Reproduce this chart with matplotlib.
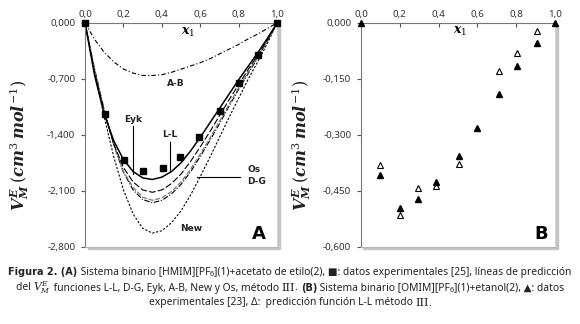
import numpy as np
import matplotlib
matplotlib.use("Agg")
import matplotlib.pyplot as plt
from matplotlib.patches import Rectangle

plt.rcParams['font.family'] = ['Noto Sans', 'DejaVu Sans']
plt.rcParams['mathtext.fontset'] = 'custom'
plt.rcParams['mathtext.it'] = 'DejaVu Serif:italic:bold'
plt.rcParams['mathtext.rm'] = 'DejaVu Serif'
plt.rcParams['mathtext.bf'] = 'DejaVu Serif:bold'

# panel A: experimental points (HMIM PF6 + ethyl acetate)
xa_exp = [0.0, 0.104, 0.204, 0.303, 0.405, 0.494, 0.594, 0.702, 0.802, 0.901, 1.0]
ya_exp = [0.0, -1.145, -1.71, -1.85, -1.82, -1.68, -1.43, -1.10, -0.75, -0.41, 0.0]

# panel A: prediction curves
x_curve = [0.0, 0.05, 0.10, 0.15, 0.20, 0.25, 0.30, 0.35, 0.40, 0.45, 0.50,
           0.55, 0.60, 0.65, 0.70, 0.75, 0.80, 0.85, 0.90, 0.95, 1.0]
y_LL = [0, -0.66, -1.14, -1.48, -1.71, -1.86, -1.94, -1.96, -1.93, -1.86, -1.75,
        -1.60, -1.43, -1.25, -1.07, -0.89, -0.71, -0.54, -0.37, -0.19, 0]
y_Eyk = [0, -0.62, -1.12, -1.52, -1.81, -1.99, -2.09, -2.12, -2.09, -2.01, -1.89,
         -1.73, -1.55, -1.36, -1.16, -0.96, -0.77, -0.58, -0.40, -0.21, 0]
y_Os = [0, -0.60, -1.10, -1.53, -1.86, -2.06, -2.18, -2.22, -2.19, -2.11, -1.99,
        -1.83, -1.64, -1.44, -1.23, -1.02, -0.81, -0.61, -0.42, -0.22, 0]
y_DG = [0, -0.58, -1.09, -1.53, -1.87, -2.09, -2.21, -2.25, -2.22, -2.14, -2.02,
        -1.86, -1.67, -1.47, -1.26, -1.04, -0.83, -0.63, -0.43, -0.22, 0]
y_New = [0, -0.62, -1.18, -1.68, -2.09, -2.39, -2.57, -2.63, -2.60, -2.50, -2.35,
         -2.15, -1.92, -1.68, -1.43, -1.18, -0.94, -0.70, -0.48, -0.25, 0]
y_AB = [0, -0.21, -0.37, -0.49, -0.58, -0.63, -0.66, -0.66, -0.65, -0.62, -0.58,
        -0.54, -0.50, -0.45, -0.39, -0.33, -0.27, -0.20, -0.14, -0.07, 0]

# panel B: OMIM PF6 + ethanol
xb_exp = [0.0, 0.100, 0.201, 0.292, 0.387, 0.503, 0.596, 0.710, 0.802, 0.905, 1.0]
yb_exp = [0.0, -0.408, -0.495, -0.473, -0.428, -0.357, -0.281, -0.192, -0.116, -0.055, 0.0]
xb_LL = [0.100, 0.201, 0.292, 0.387, 0.503, 0.710, 0.802, 0.905]
yb_LL = [-0.381, -0.514, -0.442, -0.437, -0.378, -0.130, -0.082, -0.021]

W, H = 580, 324
fig = plt.figure(figsize=(W / 100, H / 100), dpi=100)

def make_axes(left_px, width_px, ymin, yticks, ylabels, ylab_x):
    bottom = 1 - 246.7 / H
    height = (246.7 - 22.7) / H
    # drop shadow of the plot area
    fig.patches.append(Rectangle((left_px / W + 2.5 / W, bottom - 2.5 / H), width_px / W, height,
                                 transform=fig.transFigure, color='#c4c4c4', zorder=0))
    ax = fig.add_axes([left_px / W, bottom, width_px / W, height])
    ax.set_zorder(1)
    ax.set_xlim(0, 1)
    ax.set_ylim(ymin, 0)
    ax.xaxis.tick_top()
    ax.set_xticks([0, 0.2, 0.4, 0.6, 0.8, 1.0])
    ax.set_xticklabels(['0,0', '0,2', '0,4', '0,6', '0,8', '1,0'])
    ax.set_yticks(yticks)
    ax.set_yticklabels(ylabels)
    ax.tick_params(axis='x', direction='in', length=3, labelsize=7, colors='#555555',
                   labelcolor='#333333', pad=3)
    ax.tick_params(axis='y', direction='out', length=3, labelsize=7, colors='#555555',
                   labelcolor='#333333', pad=4)
    ax.spines['left'].set_color('#777777')
    ax.spines['top'].set_color('#777777')
    ax.spines['right'].set_color('#d4d4d4')
    ax.spines['bottom'].set_color('#b4b4b4')
    ax.set_ylabel(r'$V_M^E\,(cm^3\,mol^{-1})$', fontsize=11.5, color='#222222')
    ax.yaxis.set_label_coords(ylab_x, 0.45)
    return ax

# ---------- panel A ----------
axA = make_axes(85, 192.3, -2.8, [0, -0.7, -1.4, -2.1, -2.8],
                ['0,000', '-0,700', '-1,400', '-2,100', '-2,800'], -0.28)
axA.plot(x_curve, y_AB, color='black', lw=0.8, dashes=[4, 2, 1, 2])
axA.plot(x_curve, y_New, color='black', lw=0.8, dashes=[2, 1.5])
axA.plot(x_curve, y_DG, color='black', lw=0.8, dashes=[5, 1.5, 1, 1.5])
axA.plot(x_curve, y_Os, color='#777777', lw=0.9, dashes=[4, 1.5])
axA.plot(x_curve, y_Eyk, color='black', lw=0.8, dashes=[6, 2])
axA.plot(x_curve, y_LL, color='black', lw=1.1)
axA.plot(xa_exp, ya_exp, ls='none', marker='s', ms=4.5, color='black', clip_on=False, zorder=5)

axA.text(0.535, -0.12, r'$x_1$', ha='center', va='center', fontsize=9)
lab = dict(fontsize=6.5, fontweight='bold', color='#222222', family='DejaVu Sans')
axA.text(0.47, -0.76, 'A-B', ha='center', va='center', **lab)
axA.text(0.25, -1.21, 'Eyk', ha='center', va='center', **lab)
axA.plot([0.25, 0.25], [-1.29, -1.89], color='black', lw=0.8)
axA.text(0.44, -1.40, 'L-L', ha='center', va='center', **lab)
axA.plot([0.44, 0.44], [-1.49, -1.86], color='black', lw=0.8)
axA.text(0.845, -1.83, 'Os', ha='left', va='center', **lab)
axA.text(0.845, -1.99, 'D-G', ha='left', va='center', **lab)
axA.plot([0.58, 0.805], [-1.925, -1.925], color='black', lw=0.8)
axA.text(0.55, -2.57, 'New', ha='center', va='center', **lab)
axA.text(0.905, -2.64, 'A', ha='center', va='center', fontsize=13, fontweight='bold',
         family='DejaVu Sans')

# ---------- panel B ----------
axB = make_axes(361, 194, -0.6, [0, -0.15, -0.3, -0.45, -0.6],
                ['0,000', '-0,150', '-0,300', '-0,450', '-0,600'], -0.245)
axB.plot(xb_LL, yb_LL, ls='none', marker='^', ms=4.5, mfc='white', mec='black', mew=0.8,
         clip_on=False, zorder=4)
axB.plot(xb_exp, yb_exp, ls='none', marker='^', ms=5, color='black', clip_on=False, zorder=5)
axB.text(0.51, -0.024, r'$x_1$', ha='center', va='center', fontsize=9)
axB.text(0.93, -0.566, 'B', ha='center', va='center', fontsize=13, fontweight='bold',
         family='DejaVu Sans')

# ---------- caption, built from pieces ----------
renderer = fig.canvas.get_renderer()
CS = 7.4
norm = dict(fontsize=CS)
bold = dict(fontsize=CS - 0.4, fontweight='bold', family='DejaVu Sans')
sub = dict(fontsize=CS - 2, dy=-2.0)
roman = dict(fontsize=CS + 0.6, family='DejaVu Serif')
mathv = dict(fontsize=CS + 0.4, math_fontfamily='dejavuserif')

def caption_line(y_px, pieces):
    objs = []
    total = 0.0
    for s, kw in pieces:
        kw = dict(kw)
        dy = kw.pop('dy', 0.0)
        t = fig.text(0, 1 - (y_px - dy) / H, s, ha='left', va='center', color='#222222', **kw)
        w = t.get_window_extent(renderer).width
        objs.append((t, w, dy))
        total += w
    x = (W - total) / 2
    for t, w, dy in objs:
        t.set_x(x / W)
        x += w

caption_line(272, [('Figura 2. (A)', bold),
                   (' Sistema binario [HMIM][PF', norm), ('6', sub),
                   ('](1)+acetato de etilo(2), ■: datos experimentales [25], líneas de predicción', norm)])
caption_line(288, [('del ', norm), (r'$V_M^E$', mathv),
                   (' funciones L-L, D-G, Eyk, A-B, New y Os, método ', norm), ('III', roman),
                   ('. ', norm), ('(B)', bold), (' Sistema binario [OMIM][PF', norm), ('6', sub),
                   ('](1)+etanol(2), ▲: datos', norm)])
caption_line(303, [('experimentales [23], Δ:  predicción función L-L método ', norm),
                   ('III', roman), ('.', norm)])

fig.savefig('out.png', dpi=100)
